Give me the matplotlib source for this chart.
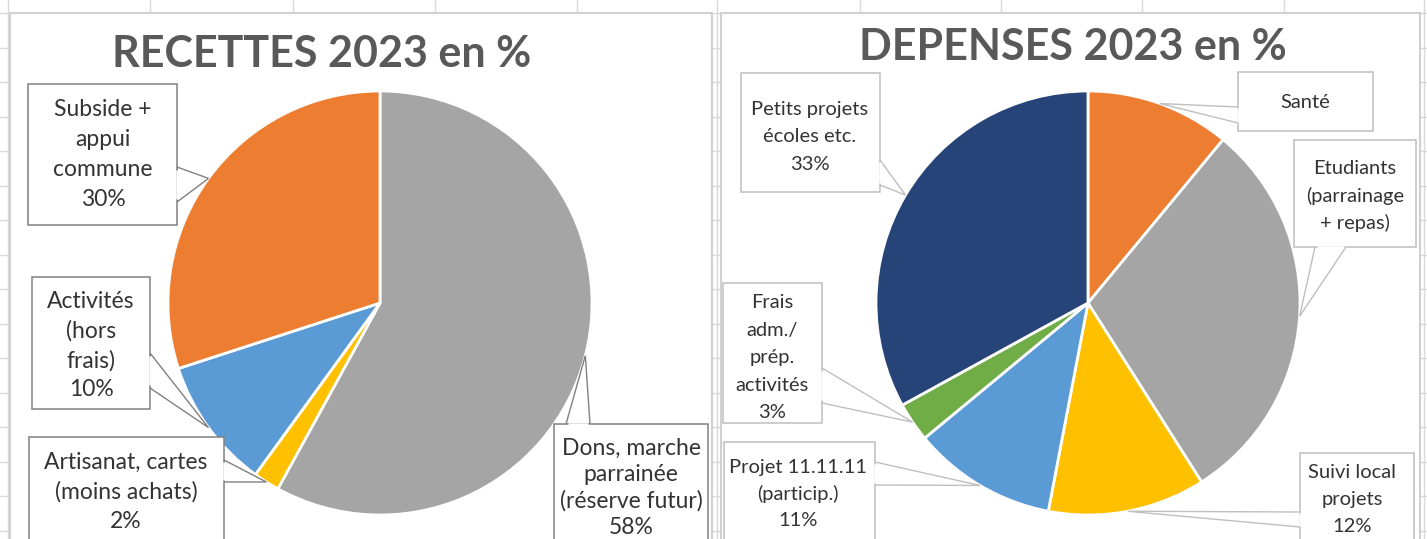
import numpy as np
import matplotlib
matplotlib.use("Agg")
import matplotlib.pyplot as plt
from matplotlib.patches import Rectangle, Polygon

plt.rcParams['font.family'] = ['Lato', 'DejaVu Sans']

# --- data ---
rec_title = "RECETTES 2023 en %"
rec_labels = ["Dons, marche\nparrainée\n(réserve futur)", "Artisanat, cartes\n(moins achats)",
              "Activités\n(hors\nfrais)", "Subside +\nappui\ncommune"]
rec_values = [58, 2, 10, 30]
rec_show_pct = [True, True, True, True]

dep_title = "DEPENSES 2023 en %"
dep_labels = ["Santé", "Etudiants\n(parrainage\n+ repas)", "Suivi local\nprojets",
              "Projet 11.11.11\n(particip.)", "Frais\nadm./\nprép.\nactivités", "Petits projets\nécoles etc."]
dep_values = [11, 30, 12, 11, 3, 33]
dep_show_pct = [False, False, True, True, True, True]

rec_colors = ["#A5A5A5", "#FFC000", "#5B9BD5", "#ED7D31"]
dep_colors = ["#ED7D31", "#A5A5A5", "#FFC000", "#5B9BD5", "#70AD47", "#264478"]

# --- layout (pixels, y down) ---
W, H = 1427, 539
# label boxes: (x0, y0, x1, y1, text x, first line y, line step, base1, base2)
rec_boxes = [
    (554, 424, 708, 545, 631, 448, 26.5, (566, 424), (590, 424)),
    (29, 437, 224, 545, 126, 462, 30, (224, 460), (224, 482)),
    (32, 277, 150, 409, 91, 302, 29.3, (150, 353), (150, 388)),
    (28, 84, 177, 225, 103, 110, 30, (177, 167), (177, 202)),
]
dep_boxes = [
    (1238, 72, 1373, 131, 1305, 102, 27, (1238, 107), (1238, 123)),
    (1294, 140, 1416, 247, 1355, 168, 27.5, (1315, 247), (1346, 247)),
    (1300, 453, 1414, 545, 1352, 473, 27, (1300, 512), (1300, 527)),
    (724, 442, 875, 545, 798, 467, 26.5, (875, 462), (875, 485)),
    (723, 283, 822, 423, 772, 303, 27.5, (822, 368), (822, 403)),
    (741, 73, 880, 192, 810, 110, 27, (880, 160), (880, 185)),
]

fig = plt.figure(figsize=(W / 100, H / 100), dpi=100)
ax = fig.add_axes([0, 0, 1, 1])

# spreadsheet grid behind the charts
grid_c = "#d9d9d9"
for x in [8, 150, 293, 435, 577, 717, 860, 1001, 1142, 1284, 1424]:
    ax.axvline(x, color=grid_c, lw=1, zorder=0)
for y in np.arange(13, H, 34.5):
    ax.axhline(y, color=grid_c, lw=1, zorder=0)

# chart areas
for x0, x1 in [(10, 712), (721, 1420)]:
    ax.add_patch(Rectangle((x0, 13), x1 - x0, H, fc="white", ec="#d0d0d0", lw=1.5, zorder=1))


def draw_chart(values, labels, show_pct, colors, boxes, center, radius, title, title_xy, box_ec, fs):
    cx, cy = center
    ax.pie(values, colors=colors, startangle=-90, counterclock=True, center=center,
           radius=radius, frame=True,
           wedgeprops=dict(edgecolor="white", linewidth=2, zorder=2))
    total = float(sum(values))
    cum = np.cumsum([0] + list(values))
    for i, (v, lab) in enumerate(zip(values, labels)):
        mid = (cum[i] + v / 2) / total
        th = np.deg2rad(-90 + 360 * mid)
        tip = (cx + radius * np.cos(th), cy + radius * np.sin(th))
        x0, y0, x1, y1, tx, ty, step, b1, b2 = boxes[i]
        ax.add_patch(Polygon([b1, tip, b2], closed=True, fc="white", ec=box_ec, lw=1, zorder=3))
        ax.add_patch(Rectangle((x0, y0), x1 - x0, y1 - y0, fc="white", ec=box_ec, lw=1.1, zorder=4))
        dx, dy = b2[0] - b1[0], b2[1] - b1[1]
        ax.plot([b1[0] + 0.08 * dx, b2[0] - 0.08 * dx], [b1[1] + 0.08 * dy, b2[1] - 0.08 * dy],
                color="white", lw=1.8, zorder=5, solid_capstyle="butt")
        lines = lab.split("\n")
        if show_pct[i]:
            lines.append(f"{v}%")
        for k, line in enumerate(lines):
            ax.text(tx, ty + k * step, line, ha="center", va="center", fontsize=fs,
                    color="#333333", zorder=6)
    ax.text(title_xy[0], title_xy[1], title, ha="center", va="center", fontsize=31,
            fontweight="bold", color="#595959", zorder=6)


draw_chart(rec_values, rec_labels, rec_show_pct, rec_colors, rec_boxes, (380, 303), 212,
           rec_title, (322, 54), "#808080", 16.5)
draw_chart(dep_values, dep_labels, dep_show_pct, dep_colors, dep_boxes, (1088, 303), 212,
           dep_title, (1073, 47), "#bfbfbf", 14.5)

ax.set_xlim(0, W)
ax.set_ylim(H, 0)
ax.set_aspect("auto")
ax.axis("off")

fig.savefig("out.png", dpi=100)
